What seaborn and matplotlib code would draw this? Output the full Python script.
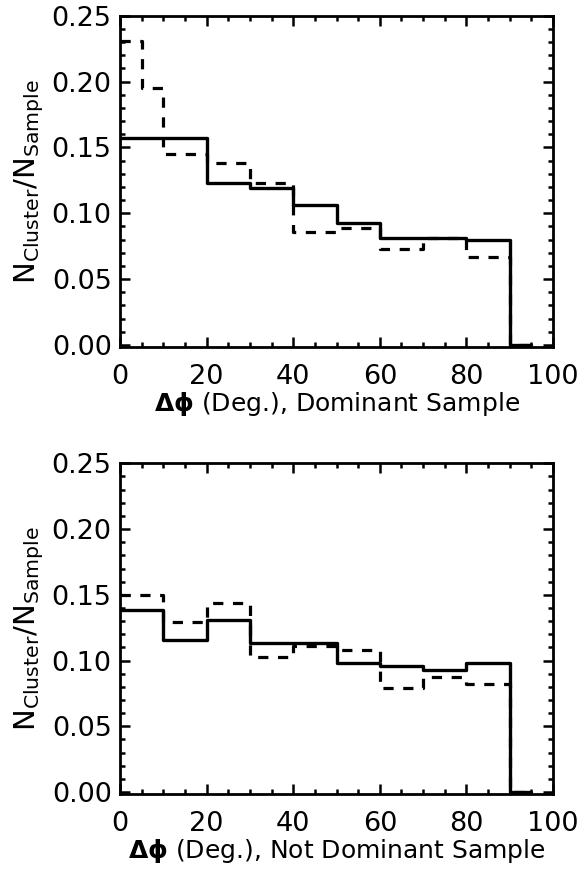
import matplotlib
matplotlib.use("Agg")
import matplotlib.pyplot as plt
import seaborn as sns
import numpy as np
import pandas as pd
from matplotlib.ticker import MultipleLocator, FormatStrFormatter

# ---- data (bin left edges and step values) ----
top_solid_x = [0, 10, 20, 30, 40, 50, 60, 70, 80, 90, 95]
top_solid_y = [0.157, 0.157, 0.123, 0.119, 0.106, 0.0925, 0.081, 0.081, 0.0795, 0.0, 0.0]

top_dash_x = [0, 5, 10, 20, 30, 40, 50, 60, 70, 80, 90, 95]
top_dash_y = [0.231, 0.195, 0.145, 0.138, 0.123, 0.0856, 0.089, 0.0725, 0.0816, 0.0665, 0.0, 0.0]

bot_solid_x = [0, 10, 20, 30, 40, 50, 60, 70, 80, 90, 95]
bot_solid_y = [0.1388, 0.116, 0.1312, 0.1135, 0.1135, 0.0983, 0.0957, 0.0927, 0.0983, 0.0, 0.0]

bot_dash_x = [0, 10, 20, 30, 40, 50, 60, 70, 80, 90, 95]
bot_dash_y = [0.150, 0.129, 0.1439, 0.1026, 0.111, 0.1084, 0.0793, 0.0874, 0.0818, 0.0, 0.0]

xlabels = [r"$\mathbf{\Delta\phi}$ (Deg.), Dominant Sample",
           r"$\mathbf{\Delta\phi}$ (Deg.), Not Dominant Sample"]
ylabel = r"$\mathregular{N_{Cluster}/N_{Sample}}$"

sns.set_theme(style="ticks")
plt.rcParams["font.family"] = ["DejaVu Sans"]
plt.rcParams["mathtext.fontset"] = "dejavusans"
plt.rcParams["text.color"] = "black"
plt.rcParams["axes.labelcolor"] = "black"
plt.rcParams["xtick.color"] = "black"
plt.rcParams["ytick.color"] = "black"

fig = plt.figure(figsize=(5.82, 8.72), dpi=100)
ax1 = fig.add_axes([0.2062, 0.6021, 0.744, 0.3799])
ax2 = fig.add_axes([0.2062, 0.0894, 0.744, 0.3793])

panels = [
    (ax1, top_solid_x, top_solid_y, top_dash_x, top_dash_y, xlabels[0]),
    (ax2, bot_solid_x, bot_solid_y, bot_dash_x, bot_dash_y, xlabels[1]),
]

for ax, sx, sy, dx, dy, xl in panels:
    dfs = pd.DataFrame({"x": sx, "y": sy})
    dfd = pd.DataFrame({"x": dx, "y": dy})
    sns.lineplot(data=dfd, x="x", y="y", ax=ax, color="black", lw=2.3,
                 drawstyle="steps-post", linestyle=(0, (3.2, 3.0)), estimator=None,
                 sort=False)
    sns.lineplot(data=dfs, x="x", y="y", ax=ax, color="black", lw=2.4,
                 drawstyle="steps-post", estimator=None, sort=False)
    ax.set_xlim(0, 100)
    ax.set_ylim(-0.0015, 0.25)
    ax.xaxis.set_major_locator(MultipleLocator(20))
    ax.xaxis.set_minor_locator(MultipleLocator(5))
    ax.yaxis.set_major_locator(MultipleLocator(0.05))
    ax.yaxis.set_minor_locator(MultipleLocator(0.01))
    ax.yaxis.set_major_formatter(FormatStrFormatter("%.2f"))
    ax.tick_params(which="both", direction="in", top=True, right=True,
                   width=1.8, color="black", labelcolor="black")
    ax.tick_params(which="major", length=7, labelsize=19.5, pad=6)
    ax.tick_params(which="minor", length=3.5)
    ax.tick_params(axis="x", which="major", pad=12)
    for sp in ax.spines.values():
        sp.set_linewidth(2.0)
        sp.set_color("black")
    ax.set_xlabel(xl, fontsize=18, labelpad=0)
    ax.set_ylabel(ylabel, fontsize=21, labelpad=4)

fig.savefig("out.png", dpi=100)
